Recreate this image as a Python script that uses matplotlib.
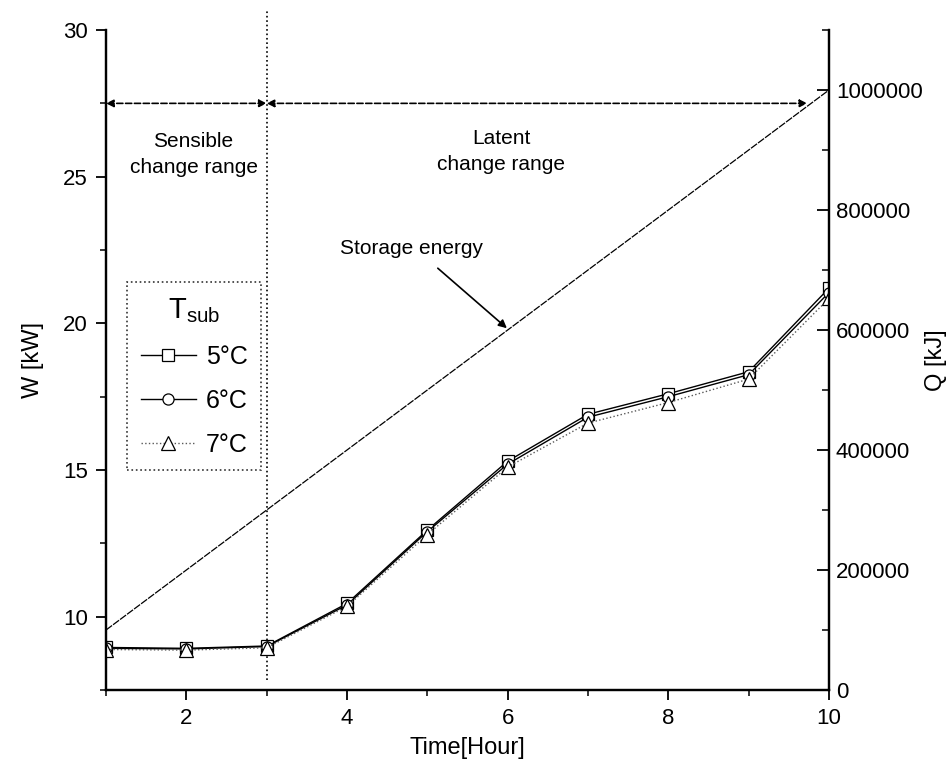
import numpy as np
import matplotlib as mpl
import matplotlib.pyplot as plt
from matplotlib.ticker import MultipleLocator

# data
hours = [1, 2, 3, 4, 5, 6, 7, 8, 9, 10]
w_5c = [8.95, 8.92, 9.0, 10.45, 12.95, 15.3, 16.9, 17.6, 18.35, 21.2]
w_6c = [8.92, 8.90, 8.98, 10.40, 12.90, 15.2, 16.8, 17.5, 18.25, 21.05]
w_7c = [8.88, 8.86, 8.94, 10.35, 12.80, 15.1, 16.6, 17.3, 18.10, 20.85]
storage_q = [100000, 200000, 300000, 400000, 500000,
             600000, 700000, 800000, 900000, 1000000]
labels = [u'5°C', u'6°C', u'7°C']

mpl.rcParams['font.family'] = ['Liberation Sans', 'DejaVu Sans']
mpl.rcParams['mathtext.fontset'] = 'custom'
mpl.rcParams['mathtext.rm'] = 'Liberation Sans'
mpl.rcParams['mathtext.it'] = 'Liberation Sans'

fig = plt.figure(figsize=(9.51, 7.8), dpi=100, facecolor='w')
ax = fig.add_axes([0.1115, 0.1154, 0.7602, 0.8461])
ax2 = ax.twinx()

# W curves
ax.plot(hours, w_5c, color='k', lw=1.0, ls='-', marker='s', ms=8, mfc='w', mec='k', mew=0.9, label=labels[0])
ax.plot(hours, w_6c, color='k', lw=1.0, ls='-', marker='o', ms=8, mfc='w', mec='k', mew=0.9, label=labels[1])
ax.plot(hours, w_7c, color='0.35', lw=1.0, ls=':', marker='^', ms=10, mfc='w', mec='k', mew=0.9, label=labels[2], zorder=5)

# storage energy
ax2.plot(hours, storage_q, color='k', lw=0.9, ls=(0, (6, 1)))

ax.set_xlim(1, 10)
ax.set_ylim(7.5, 30)
ax2.set_ylim(0, 1100000)

# range separator and arrows
ax.plot([3, 3], [7.84, 30.7], color='k', lw=1.2, ls=':', clip_on=False)
arr = dict(arrowstyle='<|-|>', ls='--', lw=1.2, color='k', shrinkA=0, shrinkB=0, mutation_scale=11)
ax.annotate('', xy=(3, 27.5), xytext=(1, 27.5), arrowprops=arr, annotation_clip=False)
ax.annotate('', xy=(9.73, 27.5), xytext=(3, 27.5), arrowprops=arr, annotation_clip=False)

ax.text(2.09, 25.75, 'Sensible\nchange range', ha='center', va='center', fontsize=15, linespacing=1.45)
ax.text(5.92, 25.85, 'Latent\nchange range', ha='center', va='center', fontsize=15, linespacing=1.45)
ax.text(4.80, 22.55, 'Storage energy', ha='center', va='center', fontsize=15)
ax2.annotate('', xy=(5.99, 603000), xytext=(5.13, 703000),
             arrowprops=dict(arrowstyle='-|>', lw=1.2, color='k', shrinkA=0, shrinkB=0, mutation_scale=12))

# ticks
ax.xaxis.set_major_locator(MultipleLocator(2))
ax.xaxis.set_minor_locator(MultipleLocator(1))
ax.yaxis.set_major_locator(MultipleLocator(5))
ax.yaxis.set_minor_locator(MultipleLocator(2.5))
ax2.yaxis.set_major_locator(MultipleLocator(200000))
ax2.yaxis.set_minor_locator(MultipleLocator(100000))
ax.tick_params(axis='both', which='major', direction='out', length=7, width=1.3, labelsize=16, pad=6)
ax.tick_params(axis='both', which='minor', direction='out', length=4, width=1.1)
ax2.tick_params(axis='y', which='major', direction='in', length=9, width=1.3, labelsize=16, pad=5)
ax2.tick_params(axis='y', which='minor', direction='in', length=5, width=1.1)
ax2.yaxis.set_major_formatter(mpl.ticker.FuncFormatter(lambda v, p: '%d' % v))

for a in (ax, ax2):
    a.spines['top'].set_visible(False)
    for s in ('left', 'right', 'bottom'):
        a.spines[s].set_linewidth(1.6)

ax.set_xlabel('Time[Hour]', fontsize=17, labelpad=6)
ax.set_ylabel('W [kW]', fontsize=17, labelpad=14)
ax2.set_ylabel('Q [kJ]', fontsize=17, labelpad=2)

leg = ax.legend(loc='upper left', bbox_to_anchor=(0.029, 0.618), title=r'T$_{\mathrm{sub}}$',
                fontsize=18, title_fontsize=21, frameon=True, fancybox=False,
                edgecolor='k', handlelength=2.2, handletextpad=0.4, labelspacing=0.8,
                borderpad=0.55, borderaxespad=0)
leg.get_frame().set_linewidth(1.2)
leg.get_frame().set_linestyle(':')

fig.savefig('out.png', dpi=100, facecolor='w')
